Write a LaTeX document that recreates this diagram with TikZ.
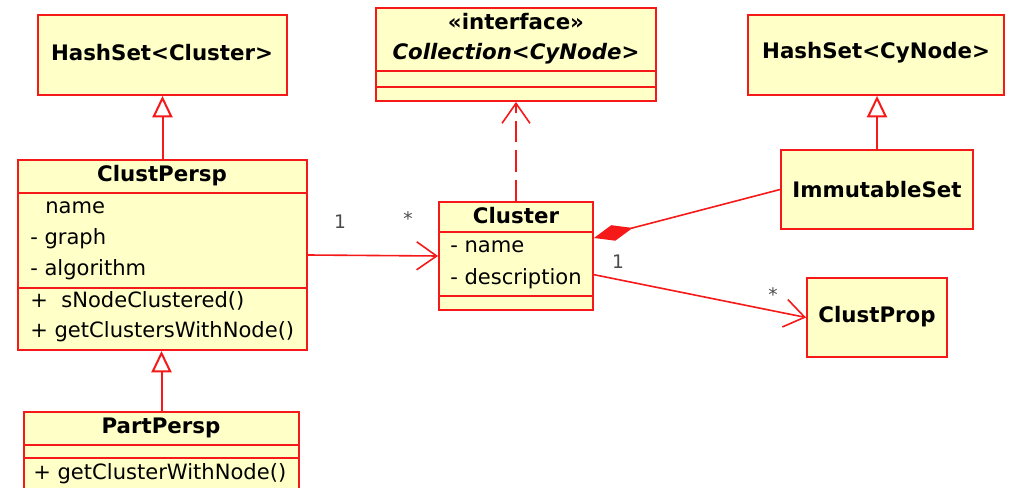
\documentclass[tikz,border=0pt]{standalone}
\usepackage{fontspec}
\setmainfont{DejaVu Sans}
\usetikzlibrary{arrows.meta,fit}

\definecolor{umlfill}{RGB}{255,255,200}
\definecolor{umlline}{RGB}{245,25,25}
\definecolor{multgray}{RGB}{75,75,75}

\tikzset{
	classbox/.style={draw=umlline, fill=umlfill, line width=1.4pt, inner sep=0pt},
	sepline/.style={draw=umlline, line width=1.4pt},
	classname/.style={font=\bfseries\fontsize{16}{19}\selectfont, inner sep=0pt},
	member/.style={anchor=west, font=\fontsize{15.8}{19}\selectfont, inner sep=0pt},
	mult/.style={text=multgray, font=\fontsize{14}{16}\selectfont, inner sep=0pt},
	inherit/.style={draw=umlline, line width=1.5pt,
		-{Triangle[open, length=16pt, width=15pt, fill=white]}},
	assoc/.style={draw=umlline, line width=1.2pt,
		-{Straight Barb[length=15pt, width=21pt]}},
	realize/.style={assoc, dash pattern=on 16pt off 6pt},
	compose/.style={draw=umlline, line width=1.2pt,
		{Diamond[length=30pt, width=12pt, fill=umlline]}-}
}

\begin{document}
\begin{tikzpicture}[x=0.75pt,y=-0.75pt]
	\useasboundingbox (0,0) rectangle (1013,488);

	% left column
	\node[classbox, fit={(38,15) (287,95)}] (hashcluster) {};
	\node[classname] (hashcluster-t) at (162,53) {HashSet<Cluster>};

	\node[classbox, fit={(18,160) (307,350)}] (clustpersp) {};
	\draw[sepline] (18,193) -- (307,193);
	\draw[sepline] (18,288) -- (307,288);
	\node[classname] (clustpersp-t) at (162,176) {ClustPersp};
	\node[member] (cp-name) at (45,208) {name};
	\node[member] (cp-graph) at (30,239) {- graph};
	\node[member] (cp-algo) at (30,270) {- algorithm};
	\node[member] (cp-isnode) at (30,301) {+\ \ sNodeClustered()};
	\node[member] (cp-getnode) at (30,332) {+ getClustersWithNode()};

	\node[classbox, fit={(24,412) (299,495)}] (partpersp) {};
	\draw[sepline] (24,445) -- (299,445);
	\draw[sepline] (24,458) -- (299,458);
	\node[classname] (partpersp-t) at (161,428) {PartPersp};
	\node[member] (pp-getnode) at (33,474) {+ getClusterWithNode()};

	% middle column
	\node[classbox, fit={(376,8) (656,101)}] (collection) {};
	\draw[sepline] (376,71) -- (656,71);
	\draw[sepline] (376,87) -- (656,87);
	\node[classname] (collection-s) at (516,22) {«interface»};
	\node[classname, font=\bfseries\itshape\fontsize{16}{19}\selectfont] (collection-t) at (516,54) {Collection<CyNode>};

	\node[classbox, fit={(439,202) (593,310)}] (cluster) {};
	\draw[sepline] (439,232) -- (593,232);
	\draw[sepline] (439,296) -- (593,296);
	\node[classname] (cluster-t) at (516,216) {Cluster};
	\node[member] (cl-name) at (450,247) {- name};
	\node[member] (cl-desc) at (450,279) {- description};

	% right column
	\node[classbox, fit={(748,15) (1004,95)}] (hashnode) {};
	\node[classname] (hashnode-t) at (876,53) {HashSet<CyNode>};

	\node[classbox, fit={(781,150) (973,229)}] (immutable) {};
	\node[classname] (immutable-t) at (877,190) {ImmutableSet};

	\node[classbox, fit={(807,278) (947,357)}] (clustprop) {};
	\node[classname] (clustprop-t) at (877,317) {ClustProp};

	% relations
	\draw[inherit] (clustpersp.north) -- (hashcluster.south);
	\draw[inherit] (partpersp.north) -- (partpersp.north |- clustpersp.south);
	\draw[inherit] (immutable.north) -- (immutable.north |- hashnode.south);
	\draw[realize] (cluster.north) -- (collection.south);
	\draw[assoc] (clustpersp.east) -- (cluster.west);
	\draw[compose] ([yshift=13.5pt]cluster.east) -- (immutable.west);
	\draw[assoc] ([yshift=-14pt]cluster.east) -- (clustprop.west);

	% multiplicities
	\node[mult] (m-cp) at (340,222) {1};
	\node[mult] (m-cl) at (408,219) {*};
	\node[mult] (m-one) at (618,262) {1};
	\node[mult] (m-many) at (773,295) {*};
\end{tikzpicture}
\end{document}
